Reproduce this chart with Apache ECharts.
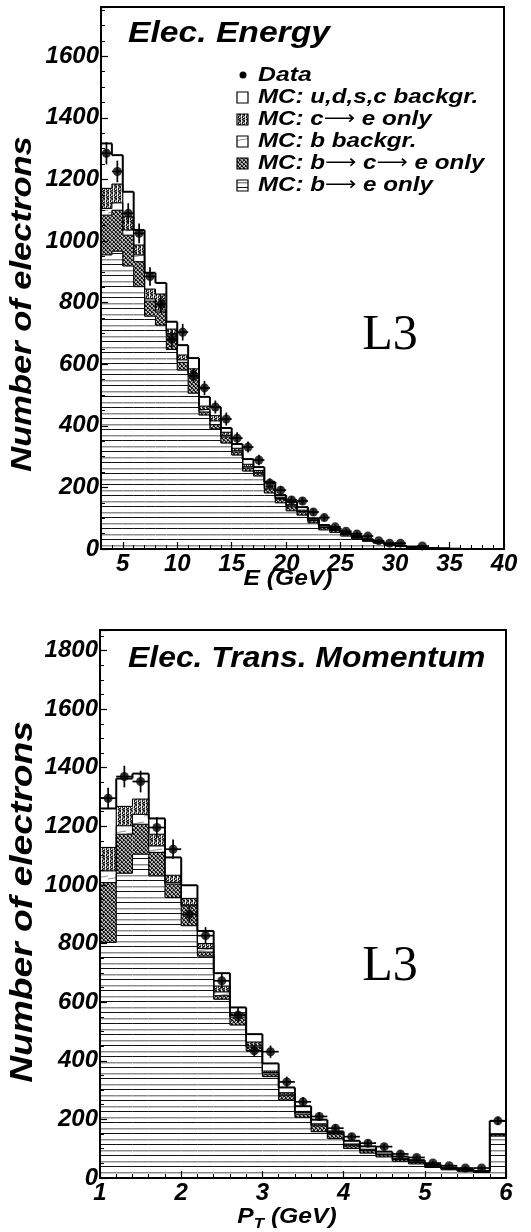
<!DOCTYPE html>
<html>
<head>
<meta charset="utf-8">
<script src="https://cdn.jsdelivr.net/npm/echarts@6/dist/echarts.min.js"></script>
<style>
  html, body { margin: 0; padding: 0; background: #fff; }
  #chart { width: 531px; height: 1232px; }
</style>
</head>
<body>
<div id="chart"></div>
<script>
// ---------- Electron energy spectrum: 1 GeV bins from 3 GeV ----------
const eBinStart = 3;
const eBinWidth = 1;
// MC components per bin (events), bottom of the stack first
const eBtoE   = [955, 967, 919, 852, 756, 727, 648, 581, 506, 435, 390, 344, 305, 253, 237, 182, 150, 124, 110, 85, 62, 54, 42, 33, 25, 19, 13, 9, 6, 4, 3, 2, 1];
const eBtoCtoE= [129, 133, 100, 81, 49, 43, 48, 25, 58, 10, 14, 20, 10, 10, 9, 13, 12, 13, 10, 7, 7, 6, 5, 4, 3, 2, 1, 1, 1, 1, 0, 0, 0];
const eBBkg   = [22, 24, 17, 22, 7, 6, 4, 8, 6, 8, 12, 5, 4, 4, 3, 3, 2, 3, 2, 1, 1, 1, 1, 1, 1, 0, 0, 0, 0, 0, 0, 0, 0];
const eCtoE   = [65, 61, 43, 32, 32, 52, 14, 16, 15, 11, 17, 10, 8, 8, 6, 6, 4, 4, 4, 2, 2, 2, 1, 1, 1, 1, 1, 0, 0, 0, 0, 0, 0];
const eUdsc   = [146, 94, 81, 49, 53, 36, 24, 32, 35, 30, 28, 14, 14, 17, 11, 14, 7, 9, 10, 5, 6, 5, 4, 3, 2, 2, 1, 1, 1, 0, 0, 0, 0];
// measured electrons with statistical errors (null = empty bin)
const eData   = [1285, 1226, 1090, 1025, 885, 795, 681, 704, 563, 523, 461, 422, 360, 331, 289, 214, 191, 159, 156, 120, 102, 72, 58, 49, 42, 27, 19, 19, null, 10];
const eDataErr= [36, 35, 33, 32, 30, 28, 26, 27, 24, 23, 21, 21, 19, 18, 17, 15, 14, 13, 12, 11, 10, 8, 8, 7, 6, 5, 4, 4, null, 3];
const eTicks  = [5, 10, 15, 20, 25, 30, 35, 40];

// ---------- Electron transverse momentum: 0.2 GeV bins from 1 GeV ----------
const pBinStart = 1;
const pBinWidth = 0.2;
const pBtoE   = [804, 1040, 1105, 1031, 957, 861, 757, 610, 522, 434, 346, 266, 207, 158, 135, 101, 85, 72, 57, 48, 36, 28, 23, 19, 143];
const pBtoCtoE= [204, 133, 102, 80, 46, 68, 14, 12, 27, 13, 9, 15, 11, 20, 15, 9, 8, 7, 6, 5, 4, 3, 3, 2, 5];
const pBBkg   = [40, 29, 34, 22, 5, 3, 12, 13, 5, 4, 5, 5, 5, 3, 2, 3, 2, 1, 1, 1, 1, 1, 0, 0, 1];
const pCtoE   = [80, 66, 52, 40, 25, 22, 17, 20, 10, 13, 5, 5, 4, 4, 3, 3, 3, 2, 2, 1, 1, 1, 1, 1, 2];
const pUdsc   = [133, 95, 87, 54, 61, 45, 43, 44, 18, 27, 26, 18, 18, 14, 4, 11, 10, 8, 7, 6, 4, 3, 3, 2, 44];
const pData   = [1296, 1370, 1353, 1196, 1122, 900, 827, 673, 556, 434, 431, 328, 260, 210, 170, 141, 119, 107, 82, 70, 51, 42, 34, 34, 195];
const pDataErr= [36, 37, 37, 35, 33, 30, 29, 26, 24, 21, 21, 18, 16, 14, 13, 12, 11, 10, 9, 8, 7, 6, 6, 6, 14];

const FONT = "'Liberation Sans', 'DejaVu Sans', Arial, sans-serif";
const SERIF = "'Liberation Serif', 'DejaVu Serif', serif";
const BI = (size) => 'italic bold ' + size + 'px ' + FONT;

// ---------- fill patterns ----------
function makePattern(rows, palette) {
  const h = rows.length, w = rows[0].length;
  const c = document.createElement('canvas');
  c.width = w; c.height = h;
  const g = c.getContext('2d');
  for (let y = 0; y < h; y++) {
    for (let x = 0; x < w; x++) {
      g.fillStyle = palette[rows[y][x]];
      g.fillRect(x, y, 1, 1);
    }
  }
  return { image: c, repeat: 'repeat' };
}
const pal = { 'k': '#111', 'd': '#555', 'g': '#8a8a8a', 'l': '#c8c8c8', 'w': '#ffffff' };
// b -> e : horizontal lines, alternating dark and grey
const fillBtoE = makePattern([
  'kkkk', 'wwww', 'wwww', 'wwww', 'wwww', 'wwww',
  'gggg', 'llll', 'wwww', 'wwww', 'wwww'
], pal);
// b -> c -> e : dark cross-hatch
const fillBtoCtoE = makePattern([
  'kglk', 'lkdg', 'gkkl', 'dlgk'
], pal);
// c -> e : vertical hatch
const fillCtoE = makePattern([
  'kwgk', 'kwgd', 'gwkg', 'dlkw', 'kwgk', 'glkd'
], pal);
// b background : white with a slanted line
const fillBBkg = (function () {
  const c = document.createElement('canvas');
  c.width = 18; c.height = 9;
  const g = c.getContext('2d');
  g.fillStyle = '#fff'; g.fillRect(0, 0, 18, 9);
  g.strokeStyle = '#777'; g.lineWidth = 0.8;
  g.beginPath(); g.moveTo(0, 6); g.lineTo(18, 3); g.stroke();
  return { image: c, repeat: 'repeat' };
})();
const fillUdsc = '#ffffff';

// ---------- series builders ----------
function cumulate(parts) {
  const out = [];
  let run = parts[0].map(() => 0);
  parts.forEach(p => {
    const low = run.slice();
    run = run.map((v, i) => v + p[i]);
    out.push({ low, high: run.slice() });
  });
  return out;
}

// filled band of one stacked component
function fillSeries(name, grid, start, width, low, high, fill) {
  const data = [];
  for (let i = 0; i < low.length; i++) {
    if (high[i] > low[i]) data.push([start + i * width, start + (i + 1) * width, low[i], high[i]]);
  }
  return {
    type: 'custom', name, xAxisIndex: grid * 2, yAxisIndex: grid, clip: true, z: 2,
    dimensions: ['x0', 'x1', 'y0', 'y1'],
    encode: { x: [0, 1], y: [2, 3] },
    renderItem(params, api) {
      const a = api.coord([api.value(0), api.value(2)]);
      const b = api.coord([api.value(1), api.value(3)]);
      return {
        type: 'rect',
        shape: { x: a[0], y: b[1], width: b[0] - a[0], height: a[1] - b[1] },
        style: { fill: fill }
      };
    },
    data
  };
}

// step outline of the cumulative top of one component
function stepSeries(name, grid, start, width, high, lw) {
  const data = [];
  for (let i = 0; i < high.length; i++) {
    const next = i + 1 < high.length ? high[i + 1] : 0;
    data.push([start + i * width, start + (i + 1) * width, high[i], next]);
  }
  return {
    type: 'custom', name: name + ' outline', xAxisIndex: grid * 2, yAxisIndex: grid, clip: true, z: 3,
    dimensions: ['x0', 'x1', 'h', 'next'],
    encode: { x: [0, 1], y: 2 },
    renderItem(params, api) {
      const x0 = api.value(0), x1 = api.value(1), h = api.value(2), nx = api.value(3);
      const a = api.coord([x0, h]);
      const b = api.coord([x1, h]);
      const c = api.coord([x1, nx]);
      const st = { stroke: '#000', lineWidth: lw, fill: null };
      const kids = [
        { type: 'line', shape: { x1: a[0], y1: a[1], x2: b[0], y2: b[1] }, style: st },
        { type: 'line', shape: { x1: b[0], y1: b[1], x2: c[0], y2: c[1] }, style: st }
      ];
      if (params.dataIndex === 0) {
        const z = api.coord([x0, 0]);
        kids.push({ type: 'line', shape: { x1: z[0], y1: z[1], x2: a[0], y2: a[1] }, style: st });
      }
      return { type: 'group', children: kids };
    },
    data
  };
}

function dataSeries(grid, start, width, vals, errs) {
  const pts = [];
  for (let i = 0; i < vals.length; i++) {
    if (vals[i] == null) continue;
    pts.push([start + (i + 0.5) * width, vals[i], errs[i], width / 2]);
  }
  return [{
    type: 'custom', name: 'Data errors', xAxisIndex: grid * 2, yAxisIndex: grid, clip: true, z: 6,
    dimensions: ['x', 'y', 'err', 'hw'],
    encode: { x: 0, y: 1 },
    renderItem(params, api) {
      const x = api.value(0), y = api.value(1), e = api.value(2), hw = api.value(3);
      const top = api.coord([x, y + e]);
      const bot = api.coord([x, y - e]);
      const lft = api.coord([x - hw, y]);
      const rgt = api.coord([x + hw, y]);
      const st = { stroke: '#000', lineWidth: 1.7 };
      return {
        type: 'group',
        children: [
          { type: 'line', shape: { x1: top[0], y1: top[1], x2: bot[0], y2: bot[1] }, style: st },
          { type: 'line', shape: { x1: lft[0], y1: lft[1], x2: rgt[0], y2: rgt[1] }, style: st }
        ]
      };
    },
    data: pts
  }, {
    type: 'scatter', name: 'Data', xAxisIndex: grid * 2, yAxisIndex: grid, z: 7,
    symbol: 'circle', symbolSize: 9, itemStyle: { color: '#000' },
    data: pts.map(p => [p[0], p[1]])
  }];
}

function allSeries(grid, start, width, parts, data, errs) {
  const fills = [fillBtoE, fillBtoCtoE, fillBBkg, fillCtoE, fillUdsc];
  const names = ['b to e', 'b to c to e', 'b backgr.', 'c to e', 'u,d,s,c backgr.'];
  const st = cumulate(parts);
  const out = st.map((s, k) => fillSeries(names[k], grid, start, width, s.low, s.high, fills[k]));
  st.forEach((s, k) => out.push(stepSeries(names[k], grid, start, width, s.high, k === 4 ? 2 : 1.1)));
  return out.concat(dataSeries(grid, start, width, data, errs));
}

// ---------- axes ----------
const tickLabel = { color: '#000', fontSize: 24, fontWeight: 'bold', fontStyle: 'italic', fontFamily: FONT };
const axisLine = { show: true, lineStyle: { color: '#000', width: 2 } };

function yAxis(grid, max) {
  return {
    type: 'value', gridIndex: grid, min: 0, max: max, interval: 200, z: 10,
    axisLine: axisLine,
    axisTick: { show: true, inside: true, length: 7, lineStyle: { color: '#000', width: 1.2 } },
    minorTick: { show: true, splitNumber: 4, length: 4, lineStyle: { color: '#000', width: 1 } },
    splitLine: { show: false },
    axisLabel: Object.assign({ margin: 2, showMaxLabel: false, formatter: v => String(v) }, tickLabel)
  };
}

const option = {
  animation: false,
  backgroundColor: '#fff',
  grid: [
    { left: 101, top: 7, width: 403, height: 542, show: true, borderColor: '#000', borderWidth: 2, backgroundColor: '#fff' },
    { left: 100, top: 630, width: 406, height: 548, show: true, borderColor: '#000', borderWidth: 2, backgroundColor: '#fff' }
  ],
  xAxis: [
    // energy: 1 GeV small ticks
    { type: 'value', gridIndex: 0, min: 3, max: 40, interval: 1, z: 10, position: 'bottom',
      axisLine: axisLine,
      axisTick: { show: true, inside: true, length: 4, lineStyle: { color: '#000', width: 1 } },
      axisLabel: { show: false }, splitLine: { show: false } },
    // energy: labelled ticks every 5 GeV
    { type: 'value', gridIndex: 0, min: 3, max: 40, z: 10, position: 'bottom', offset: 0,
      axisLine: { show: false },
      axisTick: { show: true, inside: true, length: 7, customValues: eTicks, lineStyle: { color: '#000', width: 1.2 } },
      axisLabel: Object.assign({ margin: 3, customValues: eTicks }, tickLabel),
      splitLine: { show: false } },
    // transverse momentum
    { type: 'value', gridIndex: 1, min: 1, max: 6, interval: 1, z: 10, position: 'bottom',
      axisLine: axisLine,
      axisTick: { show: true, inside: true, length: 7, lineStyle: { color: '#000', width: 1.2 } },
      minorTick: { show: true, splitNumber: 5, length: 4, lineStyle: { color: '#000', width: 1 } },
      axisLabel: Object.assign({ margin: 3 }, tickLabel),
      splitLine: { show: false } },
    { type: 'value', gridIndex: 1, min: 1, max: 6, show: false }
  ],
  yAxis: [yAxis(0, 1760), yAxis(1, 1870)],
  series: []
    .concat(allSeries(0, eBinStart, eBinWidth, [eBtoE, eBtoCtoE, eBBkg, eCtoE, eUdsc], eData, eDataErr))
    .concat(allSeries(1, pBinStart, pBinWidth, [pBtoE, pBtoCtoE, pBBkg, pCtoE, pUdsc], pData, pDataErr)),
  graphic: []
};

// ---------- titles, axis names, legend ----------
function txt(x, y, text, font, sx, align) {
  return {
    type: 'text', x: x, y: y, scaleX: sx, z: 20,
    style: { text: text, font: font, fill: '#000', align: align || 'left', verticalAlign: 'middle' }
  };
}
const g = option.graphic;
g.push(txt(128, 34, 'Elec. Energy', BI(29), 1.16));
g.push(txt(128, 659, 'Elec. Trans. Momentum', BI(29), 1.1));
g.push(txt(390, 336, 'L3', '50px ' + SERIF, 1, 'center'));
g.push(txt(390, 967, 'L3', '50px ' + SERIF, 1, 'center'));
g.push(txt(288, 579, 'E (GeV)', BI(22), 1.12, 'center'));
g.push({ type: 'text', x: 287, y: 1217, z: 20, scaleX: 1.12,
  style: { text: '{p|P}{t|T}{p| (GeV)}', align: 'center', verticalAlign: 'middle', fill: '#000',
    rich: { p: { font: BI(22), fill: '#000' }, t: { font: BI(15), fill: '#000', padding: [14, 0, 0, 0] } } } });
// vertical axis titles, reading upwards
g.push({ type: 'text', x: 23, y: 304, z: 20, rotation: Math.PI / 2, scaleX: 1.15,
  style: { text: 'Number of electrons', font: BI(30), fill: '#000', align: 'center', verticalAlign: 'middle' } });
g.push({ type: 'text', x: 23, y: 902, z: 20, rotation: Math.PI / 2, scaleX: 1.2,
  style: { text: 'Number of electrons', font: BI(31), fill: '#000', align: 'center', verticalAlign: 'middle' } });

// legend of the energy panel; arrows set in a wider upright face
const legendRich = {
  t: { font: BI(21), fill: '#000' },
  a: { font: '19px "DejaVu Sans"', fill: '#000' }
};
const legendRows = [
  { y: 97, fill: fillUdsc, label: '{t|MC: u,d,s,c backgr.}' },
  { y: 119, fill: fillCtoE, label: '{t|MC: c}{a|\u27F6}{t| e only}' },
  { y: 141, fill: fillBBkg, label: '{t|MC: b backgr.}' },
  { y: 163, fill: fillBtoCtoE, label: '{t|MC: b}{a|\u27F6}{t| c}{a|\u27F6}{t| e only}' },
  { y: 185, fill: fillBtoE, label: '{t|MC: b}{a|\u27F6}{t| e only}' }
];
g.push({ type: 'circle', z: 20, shape: { cx: 243, cy: 75, r: 3.5 }, style: { fill: '#000' } });
g.push(txt(258, 75, 'Data', BI(21), 1.18));
legendRows.forEach(r => {
  g.push({ type: 'rect', z: 20, shape: { x: 237, y: r.y - 5, width: 11, height: 11 },
    style: { fill: r.fill, stroke: '#000', lineWidth: 1.2 } });
  g.push({ type: 'text', x: 258, y: r.y, z: 20, scaleX: 1.15,
    style: { text: r.label, rich: legendRich, fill: '#000', align: 'left', verticalAlign: 'middle' } });
});

const chart = echarts.init(document.getElementById('chart'), null, { renderer: 'canvas' });
chart.setOption(option);
</script>
</body>
</html>
